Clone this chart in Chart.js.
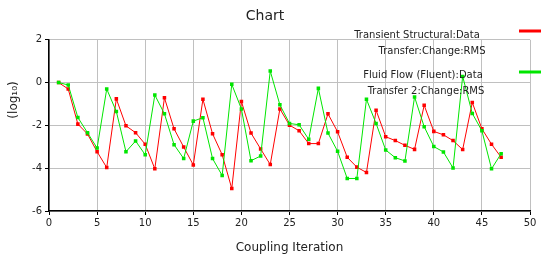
<!DOCTYPE html>
<html>
<head>
<meta charset="utf-8">
<script src="https://cdn.jsdelivr.net/npm/chart.js@4"></script>
<style>
  html, body { margin: 0; padding: 0; background: #fff; }
  #wrap { width: 544px; height: 260px; }
</style>
</head>
<body>
<div id="wrap"><canvas id="couplingChart" width="544" height="260"></canvas></div>
<script>
const iterations = [1, 2, 3, 4, 5, 6, 7, 8, 9, 10, 11, 12, 13, 14, 15, 16, 17, 18, 19, 20,
  21, 22, 23, 24, 25, 26, 27, 28, 29, 30, 31, 32, 33, 34, 35, 36, 37, 38, 39, 40,
  41, 42, 43, 44, 45, 46, 47];

// Transient Structural:Data Transfer:Change:RMS
const structuralRms = [0, -0.30, -1.94, -2.40, -3.23, -3.97, -0.76, -2.02, -2.34, -2.88,
  -4.03, -0.71, -2.16, -3.01, -3.85, -0.78, -2.39, -3.37, -4.95, -0.88,
  -2.36, -3.10, -3.83, -1.23, -1.99, -2.25, -2.85, -2.85, -1.46, -2.30,
  -3.49, -3.95, -4.20, -1.29, -2.53, -2.71, -2.93, -3.12, -1.06, -2.28,
  -2.44, -2.71, -3.13, -0.93, -2.16, -2.88, -3.49];

// Fluid Flow (Fluent):Data Transfer 2:Change:RMS
const fluentRms = [0, -0.11, -1.63, -2.34, -3.06, -0.30, -1.35, -3.23, -2.73, -3.37,
  -0.58, -1.46, -2.90, -3.55, -1.80, -1.64, -3.55, -4.34, -0.08, -1.23,
  -3.65, -3.43, 0.54, -1.04, -1.91, -1.97, -2.65, -0.27, -2.36, -3.21,
  -4.48, -4.48, -0.78, -1.91, -3.15, -3.51, -3.66, -0.67, -2.06, -2.99,
  -3.24, -3.99, 0.29, -1.44, -2.25, -4.03, -3.32];

const structuralLabel = ['Transient Structural:Data', 'Transfer:Change:RMS'];
const fluentLabel = ['Fluid Flow (Fluent):Data', 'Transfer 2:Change:RMS'];

const xTicks = [0, 5, 10, 15, 20, 25, 30, 35, 40, 45, 50];
const yTicks = [2, 0, -2, -4, -6];

const chartTitle = 'Chart';
const xTitle = 'Coupling Iteration';
const yTitle = '(log\u2081\u2080)';

const RED = 'rgb(255, 0, 0)';
const GREEN = 'rgb(0, 230, 0)';
const FONT = 'DejaVu Sans';

function toPoints(values) {
  return values.map((v, i) => ({ x: iterations[i], y: v }));
}

// legend di kanan atas + judul sumbu y (digambar manual, posisinya tidak standar)
const sideTextPlugin = {
  id: 'sideText',
  afterDraw(chart) {
    const c = chart.ctx;
    c.save();
    c.fillStyle = '#222';
    c.font = '10px ' + FONT;
    c.textAlign = 'center';
    c.textBaseline = 'middle';
    // posisi tengah tiap baris teks legend
    const rows = [
      { cx: [417, 432], top: 35, sw: 31 },
      { cx: [423, 426], top: 75, sw: 72 },
    ];
    chart.data.datasets.forEach((ds, i) => {
      const lines = ds.legendLines;
      lines.forEach((line, j) => {
        c.fillText(line, rows[i].cx[j], rows[i].top + j * 16);
      });
      c.strokeStyle = ds.borderColor;
      c.lineWidth = 3;
      c.beginPath();
      c.moveTo(519, rows[i].sw);
      c.lineTo(541, rows[i].sw);
      c.stroke();
    });

    // judul sumbu y
    c.font = '12px ' + FONT;
    c.translate(14, 100);
    c.rotate(-Math.PI / 2);
    c.fillText(yTitle, 0, 0);
    c.restore();
  }
};

const ctx = document.getElementById('couplingChart').getContext('2d');
const chartInstance = new Chart(ctx, {
  type: 'line',
  data: {
    datasets: [
      {
        label: structuralLabel.join(' '),
        legendLines: structuralLabel,
        data: toPoints(structuralRms),
        borderColor: RED,
        backgroundColor: RED,
        borderWidth: 1,
        pointStyle: 'rect',
        pointRadius: 2.5,
        pointBorderWidth: 0,
        tension: 0,
        order: 1,
      },
      {
        label: fluentLabel.join(' '),
        legendLines: fluentLabel,
        data: toPoints(fluentRms),
        borderColor: GREEN,
        backgroundColor: GREEN,
        borderWidth: 1,
        pointStyle: 'rect',
        pointRadius: 2.5,
        pointBorderWidth: 0,
        tension: 0,
        order: 0,
      },
    ],
  },
  options: {
    responsive: false,
    animation: false,
    layout: { padding: { left: 0, right: 14, top: 0, bottom: 0 } },
    plugins: {
      legend: { display: false },
      tooltip: { enabled: false },
      title: {
        display: true,
        text: chartTitle,
        color: '#222',
        font: { family: FONT, size: 14, weight: 'normal' },
        padding: { top: 8, bottom: 15 },
      },
    },
    scales: {
      x: {
        type: 'linear',
        min: 0,
        max: 50,
        afterBuildTicks(scale) {
          scale.ticks = xTicks.map((v) => ({ value: v }));
        },
        afterFit(scale) {
          scale.height = 49;
        },
        grid: { color: '#c0c0c0', lineWidth: 1, tickLength: 4, tickColor: '#000' },
        border: { color: '#000', width: 1.5 },
        ticks: { color: '#222', font: { family: FONT, size: 10 }, maxRotation: 0, padding: 2 },
        title: {
          display: true,
          text: xTitle,
          color: '#222',
          font: { family: FONT, size: 12 },
          padding: { top: 2, bottom: 5 },
        },
      },
      y: {
        type: 'linear',
        min: -6,
        max: 2,
        afterBuildTicks(scale) {
          scale.ticks = yTicks.map((v) => ({ value: v }));
        },
        afterFit(scale) {
          scale.width = 49;
        },
        grid: { color: '#c0c0c0', lineWidth: 1, tickLength: 4, tickColor: '#000' },
        border: { color: '#000', width: 1.5 },
        ticks: { color: '#222', font: { family: FONT, size: 10 }, padding: 3 },
      },
    },
  },
  plugins: [sideTextPlugin],
});
</script>
</body>
</html>
